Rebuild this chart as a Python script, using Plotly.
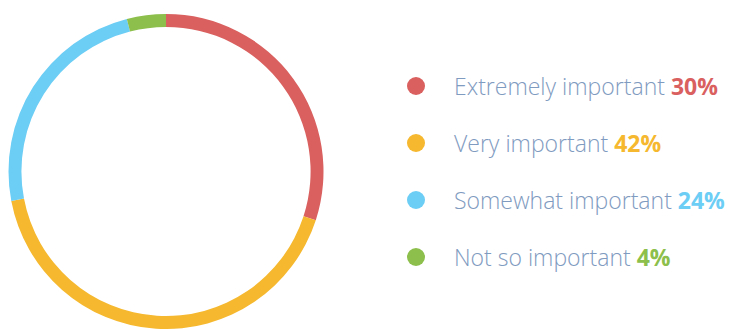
import plotly.graph_objects as go

# Survey shares
categories = ["Extremely important", "Very important", "Somewhat important", "Not so important"]
shares = [30, 42, 24, 4]
colors = ["#d9605f", "#f5b82e", "#6ccdf5", "#8cbf4b"]

W, H = 731, 329
label_color = "#7f9bbf"

fig = go.Figure()

# Thin ring chart, starting at 12 o'clock and running clockwise
fig.add_trace(go.Pie(
    labels=categories,
    values=shares,
    hole=0.918,
    sort=False,
    direction="clockwise",
    rotation=0,
    marker=dict(colors=colors, line=dict(width=0)),
    textinfo="none",
    hoverinfo="label+percent",
    domain=dict(x=[8 / W, 324 / W], y=[0, 1 - 14 / H]),
    showlegend=False,
))

# Custom legend: dot + label + bold percentage
row0, row_gap = 86, 57
dot_x, text_x = 416, 452
rows_y = [row0 + i * row_gap for i in range(len(categories))]

fig.add_trace(go.Scatter(
    x=[dot_x] * len(categories),
    y=rows_y,
    mode="markers",
    marker=dict(size=18, color=colors, line=dict(width=0)),
    hoverinfo="skip",
    showlegend=False,
    xaxis="x",
    yaxis="y",
))

for cat, val, col, yy in zip(categories, shares, colors, rows_y):
    fig.add_annotation(
        x=text_x, y=yy, xref="x", yref="y",
        xanchor="left", yanchor="middle",
        showarrow=False,
        text=f"{cat} <span style='color:{col}'><b>{val}%</b></span>",
        font=dict(family="Open Sans", size=23, color=label_color, weight=300),
    )

fig.update_layout(
    width=W, height=H,
    margin=dict(l=0, r=0, t=0, b=0),
    paper_bgcolor="white",
    plot_bgcolor="rgba(0,0,0,0)",
    xaxis=dict(range=[0, W], visible=False, fixedrange=True),
    yaxis=dict(range=[H, 0], visible=False, fixedrange=True),
)

fig.write_html("out.html")
